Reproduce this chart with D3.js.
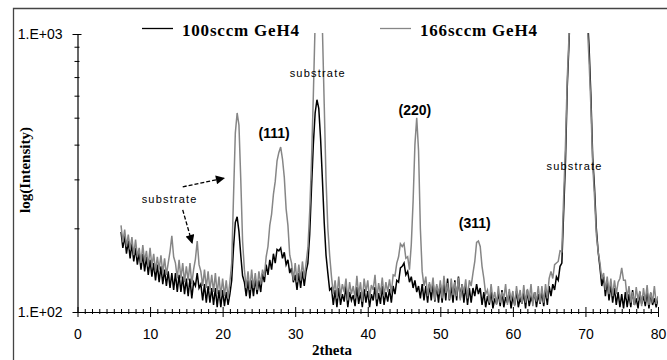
<!DOCTYPE html>
<html>
<head>
<meta charset="utf-8">
<script src="https://cdn.jsdelivr.net/npm/d3@7"></script>
<style>
  body { margin: 0; background: #fff; }
  svg { display: block; }
</style>
</head>
<body>
<svg></svg>
<script>
// 2theta grid: 6 to 80, step 0.25
const twoTheta = d3.range(0, 297).map(i => 6 + i * 0.25);

const seriesNames = ['100sccm GeH4', '166sccm GeH4'];

// 100sccm GeH4 (black), intensity
const black100 = [
  194, 170, 188, 162, 180, 156, 176, 152,
  170, 148, 164, 142, 162, 140, 158, 136,
  154, 134, 150, 130, 148, 128, 146, 126,
  142, 124, 140, 122, 138, 120, 138, 118,
  136, 118, 134, 116, 132, 114, 132, 112,
  128, 124, 138, 122, 126, 110, 126, 108,
  124, 108, 122, 106, 122, 104, 120, 104,
  120, 105, 118, 106, 116, 130, 170, 210,
  220, 195, 160, 135, 128, 114, 130, 112,
  130, 114, 132, 116, 130, 118, 138, 128,
  148, 136, 154, 142, 162, 150, 168, 166,
  170, 156, 164, 148, 154, 138, 144, 128,
  136, 120, 138, 122, 140, 124, 140, 150,
  190, 280, 400, 520, 580, 540, 420, 300,
  210, 160, 138, 120, 122, 106, 120, 104,
  122, 106, 116, 109, 124, 104, 118, 110,
  115, 105, 123, 107, 118, 104, 121, 108,
  119, 104, 116, 110, 123, 105, 117, 107,
  124, 106, 118, 109, 121, 108, 124, 116,
  130, 128, 144, 146, 150, 136, 140, 128,
  134, 122, 130, 118, 124, 112, 126, 110,
  124, 108, 126, 110, 128, 109, 124, 108,
  126, 108, 128, 110, 132, 110, 124, 108,
  130, 110, 134, 112, 126, 108, 124, 106,
  122, 108, 122, 114, 126, 116, 122, 106,
  118, 104, 114, 106, 119, 103, 112, 107,
  117, 105, 120, 104, 113, 108, 118, 103,
  114, 106, 119, 104, 112, 107, 117, 103,
  120, 105, 113, 108, 118, 104, 116, 107,
  118, 105, 120, 106, 124, 114, 126, 120,
  134, 130, 146, 150, 230, 350, 650, 950,
  1500, 2100, 2700, 3100, 3200, 3000, 2500, 1800,
  1400, 1200, 900, 600, 360, 280, 200, 165,
  145, 124, 134, 114, 130, 110, 126, 108,
  122, 106, 118, 104, 116, 103, 118, 104,
  116, 104, 120, 106, 112, 103, 118, 107,
  114, 105, 119, 103, 117, 106, 112, 104,
  112
];

// 166sccm GeH4 (grey)
const grey166 = [
  205, 178, 198, 172, 190, 168, 186, 160,
  182, 158, 170, 150, 174, 152, 166, 146,
  170, 146, 162, 140, 158, 142, 160, 138,
  156, 136, 150, 165, 188, 158, 150, 132,
  154, 132, 150, 128, 146, 130, 150, 126,
  142, 155, 180, 148, 140, 124, 142, 122,
  140, 120, 136, 118, 138, 116, 134, 114,
  132, 114, 130, 112, 128, 150, 260, 440,
  520, 470, 300, 180, 142, 122, 140, 120,
  142, 122, 138, 120, 140, 126, 142, 134,
  158, 172, 205, 225, 265, 295, 350, 375,
  392, 355, 305, 235, 205, 160, 150, 130,
  150, 128, 148, 130, 152, 132, 150, 170,
  230, 350, 600, 1100, 1600, 1800, 1500, 1050,
  560, 300, 200, 160, 134, 116, 130, 112,
  134, 114, 126, 118, 132, 110, 128, 116,
  124, 112, 135, 115, 128, 109, 132, 118,
  130, 112, 125, 120, 136, 111, 127, 116,
  133, 114, 128, 118, 131, 117, 136, 135,
  150, 158, 176, 172, 176, 156, 158, 142,
  175, 250, 400, 500, 380, 200, 140, 124,
  134, 114, 128, 118, 133, 110, 126, 116,
  130, 112, 135, 117, 127, 111, 132, 115,
  128, 114, 133, 110, 126, 117, 131, 112,
  130, 124, 138, 152, 178, 180, 172, 146,
  132, 116, 120, 108, 126, 110, 118, 106,
  124, 108, 118, 112, 126, 106, 121, 110,
  119, 105, 124, 110, 120, 107, 125, 108,
  121, 110, 126, 105, 118, 109, 124, 108,
  124, 108, 126, 112, 132, 140, 132, 148,
  150, 152, 166, 165, 260, 400, 700, 1000,
  1600, 2200, 2800, 3200, 3300, 3000, 2400, 1700,
  1300, 1100, 800, 550, 340, 260, 190, 165,
  150, 132, 138, 120, 134, 116, 132, 114,
  130, 116, 128, 132, 144, 130, 130, 112,
  124, 108, 118, 106, 123, 110, 119, 105,
  122, 109, 125, 106, 118, 108, 124, 107,
  114
];

const xTicks = [0, 10, 20, 30, 40, 50, 60, 70, 80];
const yTicks = [100, 1000];
const yTickLabels = {100: '1.E+02', 1000: '1.E+03'};

// peak labels: [2theta, intensity at text baseline, text]
const peakLabels = [
  [27.1, 423, '(111)'],
  [46.5, 511, '(220)'],
  [54.75, 200, '(311)']
];
// "substrate" labels: [2theta, intensity at text baseline]
const substrateLabels = [
  [33.1, 700],
  [68.5, 324],
  [12.7, 247]
];
// arrows: [[from 2theta, from intensity], [to 2theta, to intensity]]
const arrows = [
  [[14.5, 282], [20.2, 303]],
  [[14.5, 233], [15.8, 177]]
];

const W = 667, H = 360;
const svg = d3.select('svg').attr('width', W).attr('height', H);

// outer frame (only left and top edges are visible in the crop)
svg.append('path')
  .attr('d', 'M13.5,' + H + 'V8.5H' + W)
  .attr('fill', 'none')
  .attr('stroke', '#444')
  .attr('stroke-width', 1.3);

const x = d3.scaleLinear().domain([0, 80]).range([77.5, 658]);
const y = d3.scaleLog().domain([100, 1000]).range([312, 34]);

const defs = svg.append('defs');
defs.append('clipPath').attr('id', 'plotClip')
  .append('rect')
  .attr('x', x(0)).attr('y', y(1000) - 1)
  .attr('width', x(80) - x(0)).attr('height', y(100) - y(1000) + 1);
defs.append('marker')
  .attr('id', 'arrow')
  .attr('viewBox', '0 0 10 10')
  .attr('refX', 9).attr('refY', 5)
  .attr('markerWidth', 11).attr('markerHeight', 9)
  .attr('markerUnits', 'userSpaceOnUse')
  .attr('orient', 'auto')
  .append('path')
  .attr('d', 'M0,0L10,5L0,10Z')
  .attr('fill', '#000');

// axes
const xAxis = svg.append('g')
  .attr('transform', 'translate(0,' + y(100) + ')')
  .call(d3.axisBottom(x).tickValues(xTicks).tickSize(5).tickPadding(12).tickSizeOuter(0));
xAxis.selectAll('.tick line').attr('y1', -5);
xAxis.selectAll('text')
  .attr('font-family', 'Liberation Sans, Arial, sans-serif')
  .attr('font-size', 14)
  .attr('fill', '#000');

const xMinor = svg.append('g')
  .attr('transform', 'translate(0,' + y(100) + ')')
  .call(d3.axisBottom(x).tickValues(d3.range(0, 81).filter(d => d % 10 !== 0))
    .tickSize(2).tickFormat('').tickSizeOuter(0));
xMinor.select('.domain').remove();
xMinor.selectAll('.tick line').attr('y1', -3);

const yAxis = svg.append('g')
  .attr('transform', 'translate(' + x(0) + ',0)')
  .call(d3.axisLeft(y).tickValues(yTicks).tickFormat(d => yTickLabels[d])
    .tickSize(5).tickPadding(10).tickSizeOuter(0));
yAxis.selectAll('.tick line').attr('x1', 4);
yAxis.selectAll('text')
  .attr('font-family', 'Liberation Sans, Arial, sans-serif')
  .attr('font-size', 14)
  .attr('fill', '#000');

const yMinor = svg.append('g')
  .attr('transform', 'translate(' + x(0) + ',0)')
  .call(d3.axisLeft(y).tickValues(d3.range(200, 1000, 100)).tickSize(3).tickFormat('').tickSizeOuter(0));
yMinor.select('.domain').remove();
yMinor.selectAll('.tick line').attr('x1', 2);

svg.selectAll('.domain').attr('stroke', '#000').attr('stroke-width', 1.2);

// axis titles
svg.append('text')
  .attr('x', 332).attr('y', 355)
  .attr('text-anchor', 'middle')
  .attr('font-family', 'Liberation Serif, Times New Roman, serif')
  .attr('font-weight', 'bold')
  .attr('font-size', 15)
  .text('2theta');

svg.append('text')
  .attr('transform', 'translate(30,170) rotate(-90)')
  .attr('text-anchor', 'middle')
  .attr('font-family', 'Liberation Serif, Times New Roman, serif')
  .attr('font-weight', 'bold')
  .attr('font-size', 15)
  .text('log(Intensity)');

// data lines
const line = d3.line()
  .x((d, i) => x(twoTheta[i]))
  .y(d => y(d));

const plot = svg.append('g').attr('clip-path', 'url(#plotClip)');
plot.append('path')
  .datum(black100)
  .attr('d', line)
  .attr('fill', 'none')
  .attr('stroke', '#000')
  .attr('stroke-width', 1.5);
plot.append('path')
  .datum(grey166)
  .attr('d', line)
  .attr('fill', 'none')
  .attr('stroke', '#868686')
  .attr('stroke-width', 1.5);

// legend
const legend = svg.append('g');
const legendPos = [[142, 182], [380, 420]];
const legendColors = ['#000', '#868686'];
seriesNames.forEach((name, i) => {
  legend.append('line')
    .attr('x1', legendPos[i][0]).attr('x2', legendPos[i][0] + 31)
    .attr('y1', 28.5).attr('y2', 28.5)
    .attr('stroke', legendColors[i])
    .attr('stroke-width', 1.3);
  legend.append('text')
    .attr('x', legendPos[i][1]).attr('y', 36)
    .attr('font-family', 'Liberation Serif, Times New Roman, serif')
    .attr('font-weight', 'bold')
    .attr('font-size', 17)
    .attr('letter-spacing', 0.8)
    .text(name);
});

// annotations
svg.selectAll('.peak')
  .data(peakLabels)
  .enter().append('text')
  .attr('x', d => x(d[0]))
  .attr('y', d => y(d[1]))
  .attr('text-anchor', 'middle')
  .attr('font-family', 'Liberation Sans, Arial, sans-serif')
  .attr('font-weight', 'bold')
  .attr('font-size', 14)
  .text(d => d[2]);

svg.selectAll('.sub')
  .data(substrateLabels)
  .enter().append('text')
  .attr('x', d => x(d[0]))
  .attr('y', d => y(d[1]))
  .attr('text-anchor', 'middle')
  .attr('font-family', 'Liberation Sans, Arial, sans-serif')
  .attr('font-size', 11)
  .attr('letter-spacing', 1.2)
  .text('substrate');

// arrows pointing at the substrate peaks near 22 and 16.5
svg.selectAll('.arrow')
  .data(arrows)
  .enter().append('line')
  .attr('x1', d => x(d[0][0])).attr('y1', d => y(d[0][1]))
  .attr('x2', d => x(d[1][0])).attr('y2', d => y(d[1][1]))
  .attr('stroke', '#000')
  .attr('stroke-width', 1.3)
  .attr('stroke-dasharray', '4,2')
  .attr('marker-end', 'url(#arrow)');
</script>
</body>
</html>
